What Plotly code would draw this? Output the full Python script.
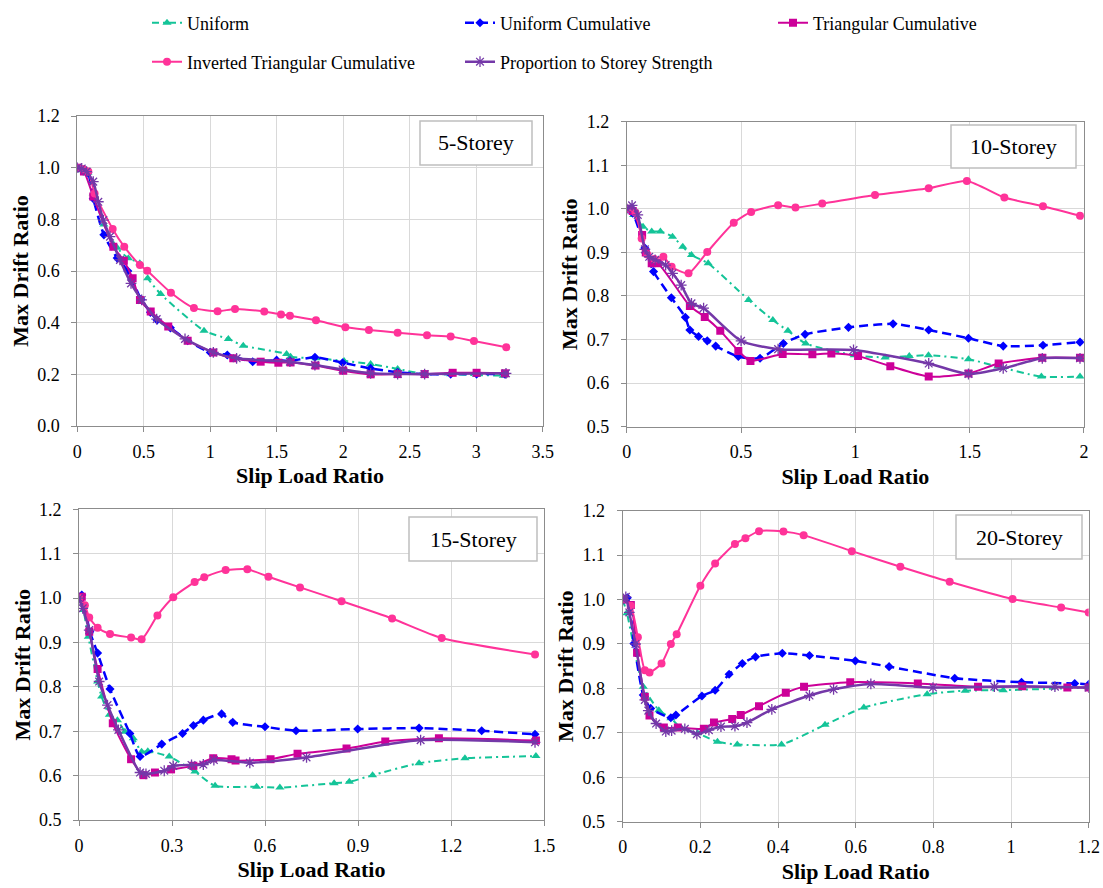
import plotly.graph_objects as go

W, H = 1103, 888

names = ["Uniform", "Uniform Cumulative", "Triangular Cumulative",
         "Inverted Triangular Cumulative", "Proportion to Storey Strength"]
panel_labels = ["5-Storey", "10-Storey", "15-Storey", "20-Storey"]

# ---------------- 5-Storey ----------------
s5_uni_x = [0, 0.04, 0.08, 0.12, 0.2, 0.3, 0.384, 0.47, 0.529, 0.627, 0.953, 1.136, 1.248, 1.574, 1.604, 1.795, 2.006, 2.206, 2.409, 2.612, 2.808, 3.003, 3.204]
s5_uni_y = [1.0, 0.99, 0.98, 0.9, 0.78, 0.69, 0.649, 0.63, 0.572, 0.511, 0.369, 0.337, 0.311, 0.279, 0.268, 0.262, 0.252, 0.240, 0.221, 0.201, 0.2, 0.197, 0.195]
s5_uc_x = [0, 0.04, 0.08, 0.12, 0.2, 0.3, 0.38, 0.48, 0.55, 0.6, 0.7, 0.83, 1.0, 1.128, 1.319, 1.499, 1.6, 1.787, 1.995, 2.206, 2.409, 2.612, 2.808, 3.003, 3.216]
s5_uc_y = [1.0, 0.99, 0.98, 0.88, 0.74, 0.65, 0.6, 0.49, 0.44, 0.41, 0.38, 0.33, 0.285, 0.275, 0.249, 0.255, 0.252, 0.266, 0.245, 0.223, 0.208, 0.201, 0.201, 0.201, 0.201]
s5_tc_x = [0, 0.05, 0.12, 0.271, 0.35, 0.416, 0.471, 0.552, 0.684, 0.83, 1.023, 1.173, 1.379, 1.512, 1.604, 1.792, 2.0, 2.206, 2.409, 2.612, 2.823, 3.003, 3.216]
s5_tc_y = [1.0, 0.985, 0.888, 0.694, 0.64, 0.572, 0.488, 0.443, 0.385, 0.33, 0.285, 0.262, 0.249, 0.245, 0.246, 0.234, 0.214, 0.2, 0.201, 0.201, 0.206, 0.206, 0.204]
s5_itc_x = [0, 0.045, 0.083, 0.13, 0.266, 0.353, 0.471, 0.526, 0.704, 0.877, 1.055, 1.186, 1.406, 1.532, 1.599, 1.795, 2.016, 2.193, 2.409, 2.630, 2.808, 2.983, 3.226]
s5_itc_y = [1.0, 0.995, 0.985, 0.9, 0.763, 0.694, 0.623, 0.601, 0.516, 0.457, 0.444, 0.453, 0.443, 0.432, 0.427, 0.409, 0.382, 0.372, 0.361, 0.351, 0.346, 0.329, 0.305]
s5_pss_x = [0, 0.033, 0.07, 0.12, 0.158, 0.196, 0.246, 0.321, 0.404, 0.484, 0.597, 0.81, 1.023, 1.198, 1.599, 1.787, 1.995, 2.206, 2.409, 2.612, 3.224]
s5_pss_y = [1.0, 0.997, 0.985, 0.946, 0.868, 0.797, 0.733, 0.643, 0.552, 0.488, 0.414, 0.337, 0.285, 0.262, 0.249, 0.236, 0.219, 0.204, 0.201, 0.201, 0.204]

# ---------------- 10-Storey ----------------
s10_uni_x = [0, 0.03, 0.071, 0.109, 0.147, 0.2, 0.245, 0.283, 0.356, 0.533, 0.639, 0.705, 0.783, 0.995, 1.13, 1.236, 1.32, 1.495, 1.623, 1.814, 1.983]
s10_uni_y = [1.0, 0.986, 0.959, 0.948, 0.948, 0.936, 0.913, 0.894, 0.875, 0.791, 0.745, 0.72, 0.691, 0.664, 0.659, 0.662, 0.664, 0.655, 0.638, 0.615, 0.615]
s10_uc_x = [0, 0.026, 0.079, 0.117, 0.195, 0.256, 0.276, 0.314, 0.352, 0.389, 0.488, 0.583, 0.685, 0.78, 0.97, 1.165, 1.321, 1.495, 1.647, 1.821, 1.983]
s10_uc_y = [1.0, 0.99, 0.91, 0.856, 0.796, 0.751, 0.722, 0.707, 0.697, 0.685, 0.661, 0.657, 0.691, 0.712, 0.728, 0.736, 0.722, 0.703, 0.685, 0.687, 0.694]
s10_tc_x = [0, 0.026, 0.067, 0.083, 0.109, 0.136, 0.276, 0.341, 0.409, 0.488, 0.541, 0.682, 0.812, 0.895, 1.012, 1.153, 1.321, 1.495, 1.627, 1.818, 1.983]
s10_tc_y = [1.0, 0.995, 0.94, 0.9, 0.875, 0.875, 0.777, 0.752, 0.72, 0.674, 0.651, 0.667, 0.666, 0.668, 0.662, 0.639, 0.615, 0.622, 0.645, 0.658, 0.658]
s10_itc_x = [0, 0.038, 0.065, 0.09, 0.12, 0.16, 0.196, 0.27, 0.352, 0.468, 0.544, 0.662, 0.738, 0.855, 1.086, 1.321, 1.488, 1.652, 1.821, 1.983]
s10_itc_y = [1.0, 0.991, 0.932, 0.895, 0.885, 0.89, 0.867, 0.852, 0.901, 0.968, 0.993, 1.008, 1.003, 1.012, 1.032, 1.047, 1.064, 1.026, 1.006, 0.984]
s10_pss_x = [0, 0.023, 0.048, 0.079, 0.098, 0.124, 0.17, 0.2, 0.238, 0.283, 0.336, 0.5, 0.662, 0.992, 1.321, 1.495, 1.647, 1.818, 1.983]
s10_pss_y = [1.0, 1.008, 0.986, 0.907, 0.89, 0.883, 0.871, 0.852, 0.825, 0.783, 0.772, 0.697, 0.678, 0.676, 0.645, 0.621, 0.634, 0.657, 0.657]

# ---------------- 15-Storey ----------------
s15_uni_x = [0, 0.014, 0.03, 0.06, 0.073, 0.098, 0.124, 0.148, 0.175, 0.202, 0.222, 0.291, 0.374, 0.439, 0.573, 0.648, 0.823, 0.872, 0.947, 1.097, 1.245, 1.474]
s15_uni_y = [1.0, 0.973, 0.913, 0.812, 0.778, 0.737, 0.725, 0.699, 0.684, 0.654, 0.655, 0.643, 0.609, 0.577, 0.575, 0.573, 0.583, 0.586, 0.601, 0.628, 0.639, 0.644]
s15_uc_x = [0, 0.009, 0.035, 0.06, 0.1, 0.164, 0.197, 0.267, 0.334, 0.369, 0.401, 0.46, 0.496, 0.6, 0.7, 0.899, 1.097, 1.299, 1.471]
s15_uc_y = [1.0, 1.007, 0.924, 0.876, 0.795, 0.695, 0.643, 0.671, 0.695, 0.713, 0.725, 0.739, 0.72, 0.71, 0.701, 0.705, 0.707, 0.701, 0.693]
s15_tc_x = [0, 0.009, 0.033, 0.06, 0.109, 0.168, 0.208, 0.245, 0.297, 0.369, 0.433, 0.492, 0.505, 0.618, 0.705, 0.863, 0.988, 1.161, 1.474]
s15_tc_y = [1.0, 1.003, 0.924, 0.84, 0.718, 0.637, 0.601, 0.607, 0.614, 0.622, 0.639, 0.637, 0.634, 0.637, 0.649, 0.661, 0.677, 0.684, 0.679]
s15_itc_x = [0, 0.019, 0.033, 0.06, 0.1, 0.168, 0.202, 0.253, 0.304, 0.373, 0.404, 0.473, 0.543, 0.611, 0.713, 0.847, 1.01, 1.17, 1.471]
s15_itc_y = [1.0, 0.984, 0.956, 0.933, 0.919, 0.911, 0.907, 0.961, 1.002, 1.036, 1.047, 1.063, 1.065, 1.048, 1.024, 0.993, 0.954, 0.91, 0.873]
s15_pss_x = [0, 0.012, 0.033, 0.065, 0.092, 0.127, 0.197, 0.216, 0.275, 0.304, 0.363, 0.401, 0.435, 0.551, 0.734, 1.102, 1.471]
s15_pss_y = [1.0, 0.977, 0.928, 0.812, 0.759, 0.703, 0.607, 0.604, 0.611, 0.622, 0.624, 0.625, 0.635, 0.629, 0.641, 0.68, 0.675]

# ---------------- 20-Storey ----------------
s20_uni_x = [0, 0.011, 0.053, 0.093, 0.124, 0.151, 0.193, 0.244, 0.295, 0.409, 0.521, 0.621, 0.784, 0.882, 0.98, 1.2]
s20_uni_y = [1.0, 0.969, 0.804, 0.751, 0.733, 0.71, 0.699, 0.68, 0.674, 0.674, 0.718, 0.757, 0.787, 0.795, 0.796, 0.802]
s20_uc_x = [0, 0.012, 0.029, 0.053, 0.072, 0.124, 0.137, 0.204, 0.238, 0.274, 0.308, 0.342, 0.411, 0.481, 0.599, 0.686, 0.855, 1.027, 1.164, 1.2]
s20_uc_y = [1.0, 1.004, 0.901, 0.785, 0.755, 0.734, 0.74, 0.783, 0.796, 0.832, 0.856, 0.871, 0.879, 0.874, 0.862, 0.849, 0.823, 0.814, 0.811, 0.809]
s20_tc_x = [0, 0.021, 0.037, 0.057, 0.069, 0.106, 0.142, 0.209, 0.235, 0.282, 0.304, 0.351, 0.42, 0.467, 0.586, 0.76, 0.915, 1.029, 1.145, 1.2]
s20_tc_y = [1.0, 0.988, 0.88, 0.781, 0.739, 0.712, 0.712, 0.709, 0.723, 0.731, 0.74, 0.76, 0.79, 0.804, 0.814, 0.811, 0.804, 0.805, 0.802, 0.802]
s20_itc_x = [0, 0.021, 0.039, 0.057, 0.069, 0.1, 0.124, 0.139, 0.2, 0.238, 0.289, 0.316, 0.351, 0.414, 0.466, 0.59, 0.715, 0.842, 1.004, 1.129, 1.2]
s20_itc_y = [1.001, 0.986, 0.915, 0.841, 0.836, 0.856, 0.9, 0.922, 1.031, 1.081, 1.125, 1.138, 1.154, 1.153, 1.145, 1.109, 1.074, 1.04, 1.001, 0.982, 0.971]
s20_pss_x = [0, 0.008, 0.017, 0.033, 0.057, 0.066, 0.086, 0.111, 0.126, 0.16, 0.191, 0.222, 0.253, 0.289, 0.32, 0.384, 0.481, 0.543, 0.639, 0.799, 0.957, 1.113, 1.2]
s20_pss_y = [1.0, 1.006, 0.971, 0.9, 0.774, 0.75, 0.721, 0.703, 0.705, 0.709, 0.697, 0.706, 0.714, 0.715, 0.723, 0.753, 0.784, 0.798, 0.81, 0.802, 0.804, 0.804, 0.802]

panels = [
    [(s5_uni_x, s5_uni_y), (s5_uc_x, s5_uc_y), (s5_tc_x, s5_tc_y), (s5_itc_x, s5_itc_y), (s5_pss_x, s5_pss_y)],
    [(s10_uni_x, s10_uni_y), (s10_uc_x, s10_uc_y), (s10_tc_x, s10_tc_y), (s10_itc_x, s10_itc_y), (s10_pss_x, s10_pss_y)],
    [(s15_uni_x, s15_uni_y), (s15_uc_x, s15_uc_y), (s15_tc_x, s15_tc_y), (s15_itc_x, s15_itc_y), (s15_pss_x, s15_pss_y)],
    [(s20_uni_x, s20_uni_y), (s20_uc_x, s20_uc_y), (s20_tc_x, s20_tc_y), (s20_itc_x, s20_itc_y), (s20_pss_x, s20_pss_y)],
]

# ---------------- styles ----------------
styles = [
    dict(color="#14C498", dash="7px,4px,2px,4px", width=2, symbol="triangle-up", msize=8),
    dict(color="#0000FF", dash="9px,5px", width=2.5, symbol="diamond", msize=7),
    dict(color="#CC0099", dash="solid", width=2, symbol="square", msize=8),
    dict(color="#FF3399", dash="solid", width=2, symbol="circle", msize=8),
    dict(color="#7438A8", dash="solid", width=2.5, symbol="asterisk-open", msize=9),
]

FONT = "Times New Roman, Liberation Serif, DejaVu Serif, serif"

# pixel boxes of the plot areas: (x0, x1, ytop, ybottom)
boxes = [(77.3, 542.7, 116.0, 426.0),
         (626.8, 1083.9, 121.7, 426.7),
         (79.0, 544.0, 509.3, 820.0),
         (622.7, 1088.7, 510.7, 821.7)]
xranges = [[0, 3.5], [0, 2], [0, 1.5], [0, 1.2]]
xdticks = [0.5, 0.5, 0.3, 0.2]
yranges = [[0, 1.2], [0.5, 1.2], [0.5, 1.2], [0.5, 1.2]]
ydticks = [0.2, 0.1, 0.1, 0.1]
label_boxes = [(420, 532, 121, 165), (951, 1076, 125, 168),
               (409, 537, 517, 561), (956, 1082, 515, 559)]

fig = go.Figure()

for p, series in enumerate(panels):
    xa = "x" if p == 0 else f"x{p+1}"
    ya = "y" if p == 0 else f"y{p+1}"
    for s, (xs, ys) in enumerate(series):
        st = styles[s]
        fig.add_trace(go.Scatter(
            x=xs, y=ys, name=names[s], mode="lines+markers",
            xaxis=xa, yaxis=ya,
            line=dict(color=st["color"], dash=st["dash"], width=st["width"],
                      shape="spline", smoothing=0.6),
            marker=dict(symbol=st["symbol"], size=st["msize"], color=st["color"],
                        line=dict(color=st["color"], width=1.3 if s == 4 else 0)),
            showlegend=(p == 0),
            legend="legend" if s < 3 else "legend2",
        ))

axis_common = dict(
    showgrid=True, gridcolor="#D9D9D9", gridwidth=1,
    showline=True, linecolor="#8C8C8C", linewidth=1, mirror=True,
    ticks="outside", ticklen=5, tickcolor="#8C8C8C",
    tickfont=dict(family=FONT, size=18, color="black"),
    zeroline=False, automargin=False,
)

layout = {}
for p in range(4):
    x0, x1, yt, yb = boxes[p]
    xkey = "xaxis" if p == 0 else f"xaxis{p+1}"
    ykey = "yaxis" if p == 0 else f"yaxis{p+1}"
    anchor_x = "y" if p == 0 else f"y{p+1}"
    anchor_y = "x" if p == 0 else f"x{p+1}"
    layout[xkey] = dict(axis_common, domain=[x0 / W, x1 / W], anchor=anchor_x,
                        range=xranges[p], tick0=0, dtick=xdticks[p],
                        ticklabelstandoff=4,
                        title=dict(text="<b>Slip Load Ratio</b>", standoff=7,
                                   font=dict(family=FONT, size=22, color="black")))
    layout[ykey] = dict(axis_common, domain=[1 - yb / H, 1 - yt / H], anchor=anchor_y,
                        range=yranges[p], tick0=0, dtick=ydticks[p], tickformat=".1f",
                        ticklabelstandoff=8,
                        title=dict(text="<b>Max Drift Ratio</b>", standoff=2,
                                   font=dict(family=FONT, size=22, color="black")))

shapes = []
annotations = []
for (bx0, bx1, by0, by1), txt in zip(label_boxes, panel_labels):
    shapes.append(dict(type="rect", xref="paper", yref="paper",
                       x0=bx0 / W, x1=bx1 / W, y0=1 - by1 / H, y1=1 - by0 / H,
                       line=dict(color="#BFBFBF", width=1.5), fillcolor="white", layer="above"))
    annotations.append(dict(xref="paper", yref="paper", x=(bx0 + bx1) / 2 / W,
                            y=1 - (by0 + by1) / 2 / H, text=txt, showarrow=False,
                            xanchor="center", yanchor="middle",
                            font=dict(family=FONT, size=22, color="black")))

legend_common = dict(orientation="h", xanchor="left", yanchor="middle",
                     font=dict(family=FONT, size=18, color="black"),
                     bgcolor="rgba(0,0,0,0)", borderwidth=0,
                     entrywidth=268, entrywidthmode="pixels", itemwidth=30)

fig.update_layout(
    width=W, height=H,
    margin=dict(l=0, r=0, t=0, b=0),
    paper_bgcolor="white", plot_bgcolor="white",
    font=dict(family=FONT, size=18, color="black"),
    shapes=shapes, annotations=annotations,
    legend=dict(legend_common, x=147 / W, y=1 - 23 / H),
    legend2=dict(legend_common, x=147 / W, y=1 - 62 / H),
    **layout,
)

fig.write_html("out.html")
